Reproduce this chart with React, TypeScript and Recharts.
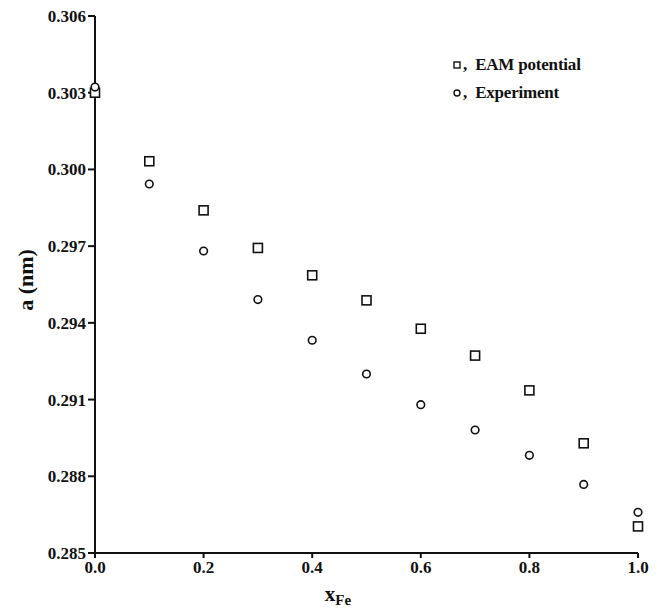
import { ScatterChart, Scatter, XAxis, YAxis, Legend } from "recharts"

const xFe = [0.0, 0.1, 0.2, 0.3, 0.4, 0.5, 0.6, 0.7, 0.8, 0.9, 1.0]
const eamValues = [0.3030, 0.30032, 0.2984, 0.29693, 0.29586, 0.29488, 0.29377, 0.29272, 0.29136, 0.28929, 0.28604]
const expValues = [0.30322, 0.29943, 0.29681, 0.29491, 0.29332, 0.2920, 0.2908, 0.28981, 0.28882, 0.28768, 0.28659]
const xTicks = [0, 0.2, 0.4, 0.6, 0.8, 1.0]
const yTicks = [0.285, 0.288, 0.291, 0.294, 0.297, 0.3, 0.303, 0.306]

const eamData = xFe.map((x, i) => ({ x, a: eamValues[i] }))
const expData = xFe.map((x, i) => ({ x, a: expValues[i] }))

const FONT = "'Liberation Serif', 'Times New Roman', serif"

const SquareDot = (props: any) => {
  const { cx, cy } = props
  return <rect x={cx - 4.5} y={cy - 4.5} width={9} height={9} fill="#fff" stroke="#111" strokeWidth={1.6} />
}

const CircleDot = (props: any) => {
  const { cx, cy } = props
  return <circle cx={cx} cy={cy} r={3.8} fill="#fff" stroke="#111" strokeWidth={1.6} />
}

// legend: small marker, comma, then label
const LegendBox = () => (
  <div style={{ fontFamily: FONT, fontSize: 17, fontWeight: "bold", color: "#111", lineHeight: "28px", letterSpacing: -0.2 }}>
    <div style={{ display: "flex", alignItems: "center" }}>
      <svg width={10} height={10} style={{ marginRight: 1 }}>
        <rect x={2} y={2} width={6} height={6} fill="#fff" stroke="#111" strokeWidth={1.4} />
      </svg>
      <span>,&nbsp;&nbsp;EAM potential</span>
    </div>
    <div style={{ display: "flex", alignItems: "center" }}>
      <svg width={10} height={10} style={{ marginRight: 1 }}>
        <circle cx={5} cy={5} r={3} fill="#fff" stroke="#111" strokeWidth={1.4} />
      </svg>
      <span>,&nbsp;&nbsp;Experiment</span>
    </div>
  </div>
)

const YLabel = () => {
  const cx = 25
  const cy = 280
  return (
    <text x={cx} y={cy} transform={`rotate(-90 ${cx} ${cy})`} textAnchor="middle" dominantBaseline="central"
      fontFamily={FONT} fontWeight="bold" fontSize={22} fill="#111">
      a (nm)
    </text>
  )
}

const XLabel = () => (
  <text x={338} y={601} textAnchor="middle" fontFamily={FONT} fontWeight="bold" fill="#111">
    <tspan fontSize={21}>x</tspan>
    <tspan fontSize={15} dy={4}>Fe</tspan>
  </text>
)

const App = () => {
  return (
    <div style={{ position: "absolute", left: 0, top: 0, background: "#fff" }}>
      <ScatterChart width={670} height={609} margin={{ top: 16, right: 32, bottom: 0, left: 0 }}>
        <XAxis
          type="number"
          dataKey="x"
          domain={[0, 1]}
          ticks={xTicks}
          tickFormatter={(v: number) => v.toFixed(1)}
          height={56}
          tickSize={5}
          tickMargin={3}
          stroke="#111"
          strokeWidth={2}
          tick={{ fill: "#111", fontFamily: FONT, fontWeight: "bold", fontSize: 17 }}
          label={<XLabel />}
        />
        <YAxis
          type="number"
          dataKey="a"
          domain={[0.285, 0.306]}
          ticks={yTicks}
          tickFormatter={(v: number) => v.toFixed(3)}
          width={95}
          tickSize={7}
          tickMargin={2}
          stroke="#111"
          strokeWidth={2}
          tick={{ fill: "#111", fontFamily: FONT, fontWeight: "bold", fontSize: 17 }}
          label={<YLabel />}
        />
        <Legend
          layout="horizontal"
          verticalAlign="middle"
          align="center"
          wrapperStyle={{ top: 51, left: 452, width: 200 }}
          content={<LegendBox />}
        />
        <Scatter name="EAM potential" data={eamData} shape={<SquareDot />} isAnimationActive={false} />
        <Scatter name="Experiment" data={expData} shape={<CircleDot />} isAnimationActive={false} />
      </ScatterChart>
    </div>
  )
}

export default App
